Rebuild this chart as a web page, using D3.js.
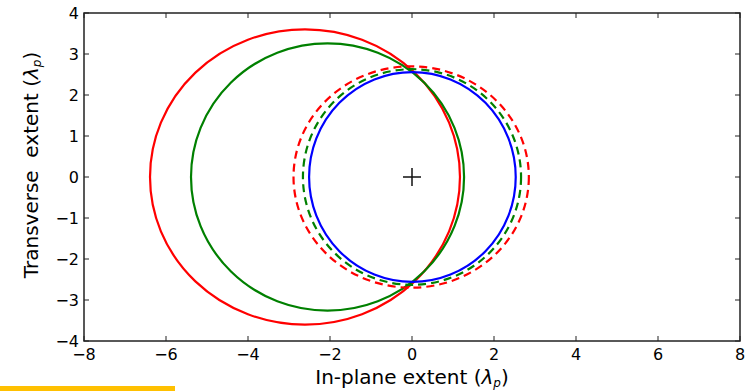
<!DOCTYPE html>
<html>
<head>
<meta charset="utf-8">
<script src="https://cdn.jsdelivr.net/npm/d3@7"></script>
<style>
  body { margin: 0; background: #fff; }
  text { font-family: "DejaVu Sans", sans-serif; fill: #000; }
</style>
</head>
<body>
<div id="chart"></div>
<script>
// curve data (in units of lambda_p): centre x, half-width, half-height
const curve_names = ["red solid", "green solid", "red dashed", "green dashed", "blue solid"];
const curve_cx = [-2.61, -2.06, -0.02, 0.0, 0.01];
const curve_rx = [3.78, 3.33, 2.87, 2.66, 2.52];
const curve_ry = [3.60, 3.26, 2.70, 2.63, 2.56];
const curve_colors = ["#ff0000", "#008000", "#ff0000", "#008000", "#0000ff"];
const curve_dashed = [false, false, true, true, false];

// axis ticks
const x_ticks = [-8, -6, -4, -2, 0, 2, 4, 6, 8];
const y_ticks = [-4, -3, -2, -1, 0, 1, 2, 3, 4];

// setup canvas
const canvas_width = 753;
const canvas_height = 391;
const margin = {left: 84, top: 13, right: 13, bottom: 50};
const plot_w = canvas_width - margin.left - margin.right;
const plot_h = canvas_height - margin.top - margin.bottom;

const svg = d3.select("#chart").append("svg")
  .attr("width", canvas_width)
  .attr("height", canvas_height);

const x = d3.scaleLinear().domain([-8, 8]).range([margin.left, margin.left + plot_w]);
const y = d3.scaleLinear().domain([-4, 4]).range([margin.top + plot_h, margin.top]);

svg.append("clipPath").attr("id", "clip")
  .append("rect")
    .attr("x", margin.left).attr("y", margin.top)
    .attr("width", plot_w).attr("height", plot_h);

// draw the ellipses
const plot = svg.append("g").attr("clip-path", "url(#clip)");
plot.selectAll("ellipse")
  .data(curve_names)
  .enter().append("ellipse")
    .attr("cx", (d, i) => x(curve_cx[i]))
    .attr("cy", y(0))
    .attr("rx", (d, i) => x(curve_rx[i]) - x(0))
    .attr("ry", (d, i) => y(0) - y(curve_ry[i]))
    .attr("fill", "none")
    .attr("stroke", (d, i) => curve_colors[i])
    .attr("stroke-width", 2.2)
    .attr("stroke-dasharray", (d, i) => curve_dashed[i] ? "8,5" : null);

// plus marker at the origin
const plus = 9;
plot.append("path")
  .attr("d", `M${x(0) - plus},${y(0)}H${x(0) + plus}M${x(0)},${y(0) - plus}V${y(0) + plus}`)
  .attr("stroke", "#111")
  .attr("stroke-width", 1.5);

// axes: ticks inward on all four sides
const tick_len = 5;
const axes = svg.append("g").attr("stroke", "#222").attr("stroke-width", 1);
x_ticks.forEach(t => {
  axes.append("line").attr("x1", x(t)).attr("x2", x(t))
    .attr("y1", y(-4)).attr("y2", y(-4) - tick_len);
  axes.append("line").attr("x1", x(t)).attr("x2", x(t))
    .attr("y1", y(4)).attr("y2", y(4) + tick_len);
});
y_ticks.forEach(t => {
  axes.append("line").attr("x1", x(-8)).attr("x2", x(-8) + tick_len)
    .attr("y1", y(t)).attr("y2", y(t));
  axes.append("line").attr("x1", x(8)).attr("x2", x(8) - tick_len)
    .attr("y1", y(t)).attr("y2", y(t));
});
svg.append("rect")
  .attr("x", margin.left).attr("y", margin.top)
  .attr("width", plot_w).attr("height", plot_h)
  .attr("fill", "none")
  .attr("stroke", "#222")
  .attr("stroke-width", 1.5);

const fmt = v => v < 0 ? "\u2212" + Math.abs(v) : String(v);

// tick labels
svg.append("g").selectAll("text")
  .data(x_ticks)
  .enter().append("text")
    .attr("x", d => x(d))
    .attr("y", y(-4) + 19)
    .attr("text-anchor", "middle")
    .attr("font-size", 16)
    .text(fmt);

svg.append("g").selectAll("text")
  .data(y_ticks)
  .enter().append("text")
    .attr("x", x(-8) - 5)
    .attr("y", d => y(d) + 6)
    .attr("text-anchor", "end")
    .attr("font-size", 16)
    .text(fmt);

// axis label helper: text, then lambda with subscript p
function lambdaLabel(sel, txt) {
  sel.attr("font-size", 20)
    .attr("xml:space", "preserve")
    .style("white-space", "pre")
    .text(txt);
  sel.append("tspan").attr("font-style", "italic").text("\u03bb");
  sel.append("tspan").attr("font-style", "italic")
    .attr("font-size", 12).attr("dy", 3).text("p");
  sel.append("tspan").attr("dy", -3).text(")");
}

lambdaLabel(svg.append("text")
  .attr("x", x(0))
  .attr("y", y(-4) + 43)
  .attr("text-anchor", "middle"), "In-plane extent (");

lambdaLabel(svg.append("text")
  .attr("transform", "translate(38,165) rotate(-90)")
  .attr("text-anchor", "middle"), "Transverse  extent (");

// yellow strip at the bottom left
svg.append("rect")
  .attr("x", 0).attr("y", 386)
  .attr("width", 175).attr("height", 5)
  .attr("fill", "#ffc000");
</script>
</body>
</html>
